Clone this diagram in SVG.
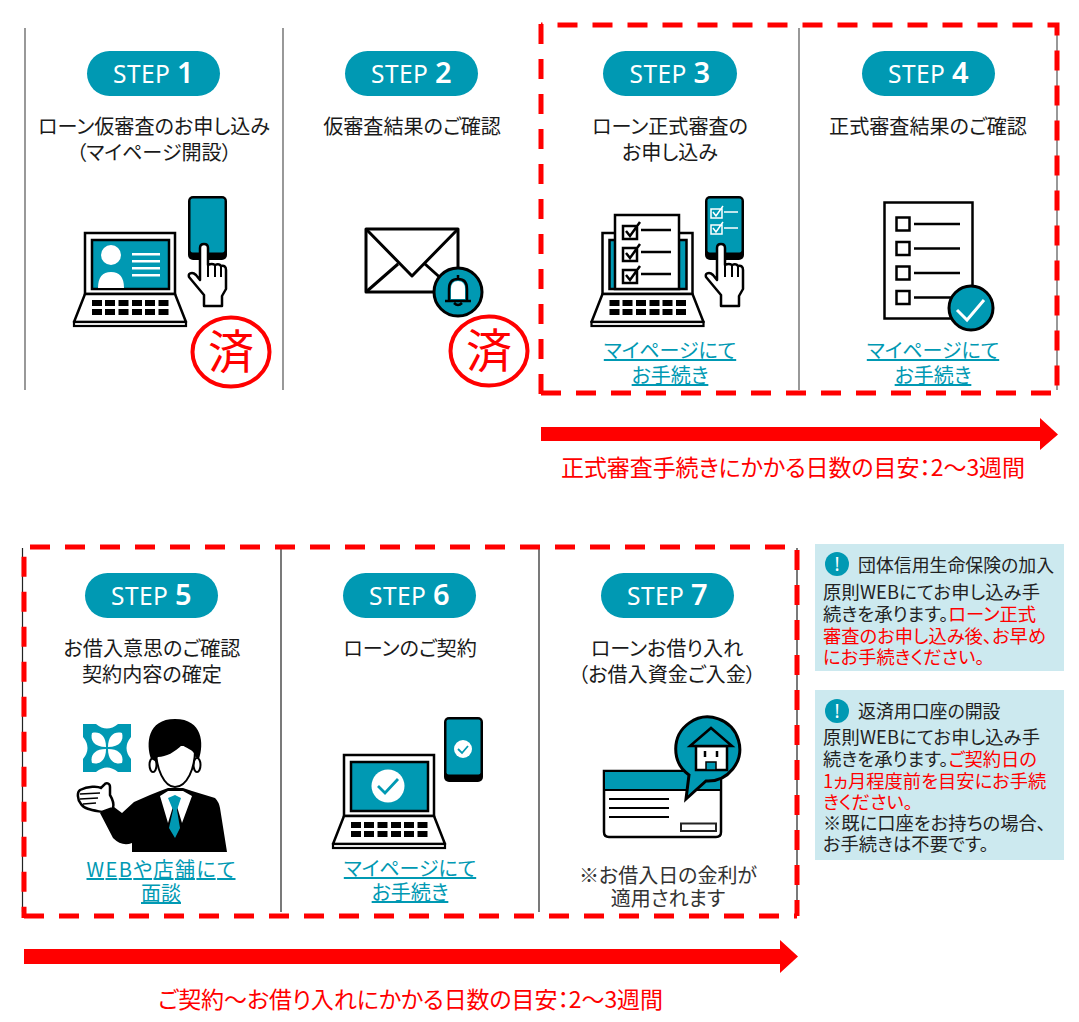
<svg xmlns="http://www.w3.org/2000/svg" xmlns:xlink="http://www.w3.org/1999/xlink" width="1079" height="1022" viewBox="0 0 1079 1022">
<style>
text{font-family:"Noto Sans CJK JP","Noto Sans",sans-serif;font-feature-settings:"palt"}
.sep{stroke:#555;stroke-width:1.2;fill:none}
.sep2{stroke:#222;stroke-width:1.2;fill:none}
.box{fill:none;stroke:#f00;stroke-width:5;stroke-dasharray:20 15}
.pill{fill:#0099b3}
.st{font-family:"Noto Sans",sans-serif;font-size:24.500px;letter-spacing:.4px;fill:#fff;text-anchor:middle}
.st tspan{font-size:29px;font-weight:600}
.h{font-size:20.100px;fill:#1a1a1a;text-anchor:middle}
.lk{font-size:20px;fill:#0099b3;text-anchor:middle;text-decoration:underline}
.n{font-size:20px;fill:#333;text-anchor:middle}
.r{font-size:23px;fill:#f00}
.b{font-size:18.300px;fill:#222}
.ti{font-size:17.900px;fill:#222}
.red{fill:#f00}
.info{fill:#cce9ef}
.ic{fill:#0099b3}
.ex{font-family:"Noto Sans",sans-serif;font-size:19px;fill:#fff;text-anchor:middle}
.stamp{fill:none;stroke:#f00;stroke-width:4}
.sm{font-size:46px;fill:#f00;text-anchor:middle}
.k{stroke:#000;stroke-width:3;fill:none}
.t{fill:#0099b3}
</style>
<defs>
<g id="laptop">
<rect x="85" y="233" width="90" height="61" fill="#fff" stroke="#000" stroke-width="2.500"/>
<rect x="92" y="240" width="77" height="49" fill="#0099b3" stroke="#000" stroke-width="2.500"/>
<path d="M85 294H175L186 322H74Z" fill="#fff" stroke="#000" stroke-width="2.500" stroke-linejoin="round"/>
<rect x="74" y="322" width="112" height="4" fill="#fff" stroke="#000" stroke-width="2.200"/>
<g fill="#000">
<rect x="92" y="300" width="10" height="6"/><rect x="105" y="300" width="10" height="6"/><rect x="118.500" y="300" width="10" height="6"/><rect x="132" y="300" width="10" height="6"/><rect x="145" y="300" width="10" height="6"/><rect x="158.500" y="300" width="10" height="6"/>
<rect x="92" y="309" width="10" height="6"/><rect x="105" y="309" width="10" height="6"/><rect x="118.500" y="309" width="10" height="6"/><rect x="132" y="309" width="10" height="6"/><rect x="145" y="309" width="10" height="6"/><rect x="158.500" y="309" width="10" height="6"/>
</g>
</g>
<g id="phone">
<rect x="188" y="196" width="39" height="64" rx="5" fill="#000"/>
<rect x="190.500" y="198.500" width="34" height="54" rx="2" fill="#0099b3"/>
</g>
<g id="hand">
<path d="M200 248q0-4 4-4t4 4V265q4-2 7 0q4-2 6 1q5-1 5 4V289L222 296V306H204V295L189 277q-1-4 3-4q2 0 4 2L200 280Z" fill="#fff" stroke="#000" stroke-width="2.500" stroke-linejoin="round"/>
<path d="M208 265V277M215 265V277M221 266V277" stroke="#000" stroke-width="2" fill="none"/>
</g>
<path id="leaf" d="M-1-1C-13-1-17-8-15-15C-8-17-1-13-1-1Z" fill="#fff"/>
</defs>

<g id="connectors">
<path class="sep" d="M25 28V390M283 28V390M799 28V390M1057 28V390"/>
<path class="sep2" d="M22.500 548V912M281 548V912M539 548V912M797 548V912"/>
<path class="box" stroke-dashoffset="-16.500" d="M541 25H1057V393"/>
<path class="box" d="M541 24V395"/>
<path class="box" d="M541 393H1057"/>
<path class="box" stroke-dashoffset="-6" d="M24 547H797V916"/>
<path class="box" d="M24 556.700V918"/>
<path class="box" d="M24 916H797"/>
<path d="M541 427H1040V418L1058 434.500L1040 450V441H541Z" fill="#f00"/>
<path d="M24 949H780V940L798 956.500L780 973V964H24Z" fill="#f00"/>
</g>

<g id="step1">
<rect class="pill" x="87" y="51" width="133" height="45" rx="22.500"/>
<text class="st" x="153.500" y="83">STEP <tspan>1</tspan></text>
<text class="h" x="154" y="134">ローン仮審査のお申し込み</text>
<text class="h" x="154" y="160">（マイページ開設）</text>
<use xlink:href="#laptop"/>
<g fill="#fff"><circle cx="111" cy="255" r="10"/><path d="M98 288q0-16 13-16t13 16Z"/><rect x="132" y="253" width="28" height="2.500"/><rect x="132" y="260" width="28" height="2.500"/><rect x="132" y="267" width="28" height="2.500"/><rect x="132" y="274" width="28" height="2.500"/></g>
<use xlink:href="#phone"/><use xlink:href="#hand"/>
<ellipse class="stamp" cx="231" cy="352" rx="38.500" ry="34.500"/>
<text class="sm" x="231" y="368">済</text>
</g>

<g id="step2">
<rect class="pill" x="345" y="51" width="133" height="45" rx="22.500"/>
<text class="st" x="411.500" y="83">STEP <tspan>2</tspan></text>
<text class="h" x="412" y="134">仮審査結果のご確認</text>
<path d="M366 229H458V292H366Z" fill="#fff" stroke="#000" stroke-width="3" stroke-linejoin="round"/>
<path class="k" d="M366 229L412 276L458 229M366 292L398 264M425 264L445 282" stroke-linejoin="round"/>
<circle cx="458" cy="292" r="24" class="t" stroke="#000" stroke-width="3"/>
<path d="M449 301V289q0-10 9-10t9 10V301ZM445 301H471M458 275V279M454 303q4 4 8 0" stroke="#000" stroke-width="2.500" fill="none"/>
<path d="M451 299V289q0-8 7-8t7 8V299Z" fill="#fff"/>
<ellipse class="stamp" cx="489" cy="351" rx="38.500" ry="34.500"/>
<text class="sm" x="489" y="367">済</text>
</g>

<g id="step3">
<rect class="pill" x="603" y="51" width="134" height="45" rx="22.500"/>
<text class="st" x="670" y="83">STEP <tspan>3</tspan></text>
<text class="h" x="670" y="134">ローン正式審査の</text>
<text class="h" x="670" y="160">お申し込み</text>
<use xlink:href="#laptop" x="517.500"/>
<rect x="615" y="215" width="64" height="74" fill="#fff" stroke="#000" stroke-width="2.500"/>
<g fill="none" stroke="#000">
<path d="M623 226H637V239H623ZM626 231L630 236L640 222M641 230H671M623 248H637V261H623ZM626 253L630 258L640 244M641 252H671M623 270H637V283H623ZM626 275L630 280L640 266M641 274H671" stroke-width="2.500"/>
</g>
<use xlink:href="#phone" x="517"/><use xlink:href="#hand" x="517"/>
<path d="M711 209H722V218H711ZM713 212L716 216L723 206M724 212H738M711 225H722V234H711ZM713 228L716 232L723 222M724 228H738" fill="none" stroke="#fff" stroke-width="1.500"/>
<text class="lk" x="670" y="358">マイページにて</text>
<text class="lk" x="670" y="383">お手続き</text>
</g>

<g id="step4">
<rect class="pill" x="862" y="51" width="133" height="45" rx="22.500"/>
<text class="st" x="928.500" y="83">STEP <tspan>4</tspan></text>
<text class="h" x="928" y="134">正式審査結果のご確認</text>
<rect x="884.500" y="202.500" width="88" height="116" fill="#fff" stroke="#000" stroke-width="2.500"/>
<path d="M896.500 217.500H909.500V230.500H896.500ZM896.500 242H909.500V255H896.500ZM896.500 266.500H909.500V279.500H896.500ZM896.500 291H909.500V304H896.500ZM914 224H960M914 248.500H960M914 273H960M914 297.500H960" fill="none" stroke="#000" stroke-width="2.500"/>
<circle cx="971" cy="308" r="22" class="t" stroke="#000" stroke-width="3"/>
<path d="M957 310L967 320L984 300" fill="none" stroke="#fff" stroke-width="3"/>
<text class="lk" x="933" y="358">マイページにて</text>
<text class="lk" x="933" y="383">お手続き</text>
</g>

<g id="note">
<text class="r" x="561" y="476" textLength="464">正式審査手続きにかかる日数の目安：2～3週間</text>
<text class="r" x="158" y="1008" textLength="505">ご契約～お借り入れにかかる日数の目安：2～3週間</text>
</g>

<g id="step5">
<rect class="pill" x="85" y="573" width="133" height="45" rx="22.500"/>
<text class="st" x="151.500" y="605">STEP <tspan>5</tspan></text>
<text class="h" x="152" y="656">お借入意思のご確認</text>
<text class="h" x="152" y="682">契約内容の確定</text>
<path d="M83 724H96Q107 733 118 724H131V737Q122 748 131 759V772H118Q107 763 96 772H83V759Q92 748 83 737Z" class="t"/>
<g transform="translate(107 748)"><use xlink:href="#leaf"/><use xlink:href="#leaf" transform="rotate(90)"/><use xlink:href="#leaf" transform="rotate(180)"/><use xlink:href="#leaf" transform="rotate(270)"/></g>
<path d="M132 852V843Q122 847 113 838L100 813L114 807L122 813L134 802L150 795L160 791L168 788H183L192 791L215 798Q219 802 220 808L227 852Z" fill="#000"/>
<path d="M160 796L168 823L175 800L182 823L192 796L183 791H168Z" fill="#fff"/>
<path d="M168 798L175 795L181 798L177 810L180 828L175 838L169 828L173 810Z" class="t"/>
<ellipse cx="153" cy="765" rx="3.500" ry="7" fill="#fff" stroke="#000" stroke-width="2"/>
<ellipse cx="197" cy="765" rx="3.500" ry="7" fill="#fff" stroke="#000" stroke-width="2"/>
<path d="M156 745C155 770 165 787 175 787C186 787 196 770 195 745Z" fill="#fff" stroke="#000" stroke-width="2"/>
<path d="M151 759C146 744 147 719 175 719C203 719 204 744 199 759L195.500 757C194 750 190 750 182 745C175 752 166 757 158 757C157 758 156 759 155 761Z" fill="#000"/>
<path d="M102 812C92 810 84 809 81 804C77 799 77 792 80 790C88 786 98 786 101 788L104 785C106 782 110 783 110 787L110 795C113 800 114 805 113 808Z" fill="#fff" stroke="#000" stroke-width="2.500"/>
<path d="M80 794L100 793M80 799L98 798M83 804L96 803" stroke="#000" stroke-width="1.500"/>
<text class="lk" x="161" y="877" textLength="149">WEBや店舗にて</text>
<text class="lk" x="161" y="901">面談</text>
</g>

<g id="step6">
<rect class="pill" x="343" y="573" width="133" height="45" rx="22.500"/>
<text class="st" x="409.500" y="605">STEP <tspan>6</tspan></text>
<text class="h" x="410" y="656">ローンのご契約</text>
<use xlink:href="#laptop" x="259" y="522"/>
<circle cx="388" cy="786" r="16.500" fill="#fff"/>
<path d="M378 786L385 793L398 779" fill="none" stroke="#0099b3" stroke-width="2.800"/>
<rect x="444" y="717" width="39" height="65" rx="5" fill="#000"/><rect x="446.500" y="719.500" width="34" height="55" rx="2" class="t"/>
<circle cx="463" cy="749" r="9" fill="#fff"/>
<path d="M458 749L462 753L468 746" fill="none" stroke="#0099b3" stroke-width="1.800"/>
<text class="lk" x="410" y="876">マイページにて</text>
<text class="lk" x="410" y="900">お手続き</text>
</g>

<g id="step7">
<rect class="pill" x="601" y="573" width="133" height="45" rx="22.500"/>
<text class="st" x="667.500" y="605">STEP <tspan>7</tspan></text>
<text class="h" x="667" y="656">ローンお借り入れ</text>
<text class="h" x="667" y="682">（お借入資金ご入金）</text>
<path d="M604 771H721V832Q721 837 716 837H609Q604 837 604 832Z" fill="#fff" stroke="#000" stroke-width="2.500"/>
<rect x="604" y="771" width="117" height="19" class="t" stroke="#000" stroke-width="2"/>
<path d="M609 799H669M609 808H669M609 817H669" stroke="#000" stroke-width="2.200"/>
<rect x="681" y="823.500" width="35" height="7.500" fill="#fff" stroke="#222" stroke-width="2"/>
<path d="M686 799L689 775A32 32 0 1 1 706 781Z" class="t" stroke="#000" stroke-width="3"/>
<path d="M696 746H727V770H696Z" fill="#fff" stroke="#000" stroke-width="2.500"/>
<path d="M690 746L711 728L732 746Z" class="t" stroke="#000" stroke-width="2.500"/>
<path d="M705 751V757M717 751V757" stroke="#000" stroke-width="2.500"/>
<rect x="706" y="762" width="10" height="8" class="t" stroke="#000" stroke-width="1.500"/>
<text class="n" x="668" y="883">※お借入日の金利が</text>
<text class="n" x="668" y="906">適用されます</text>
</g>

<g id="info1">
<rect class="info" x="815" y="544" width="249" height="127"/>
<circle class="ic" cx="837" cy="564" r="12"/><text class="ex" x="837" y="571">!</text>
<text class="ti" x="858" y="572">団体信用生命保険の加入</text>
<text class="b" x="823" y="599" textLength="217">原則WEBにてお申し込み手</text>
<text class="b" x="823" y="621">続きを承ります。<tspan class="red">ローン正式</tspan></text>
<text class="b red" x="823" y="643">審査のお申し込み後、お早め</text>
<text class="b red" x="823" y="664">にお手続きください。</text>
</g>

<g id="info2">
<rect class="info" x="815" y="690" width="249" height="170"/>
<circle class="ic" cx="837" cy="711" r="12"/><text class="ex" x="837" y="718">!</text>
<text class="ti" x="858" y="718">返済用口座の開設</text>
<text class="b" x="823" y="744" textLength="217">原則WEBにてお申し込み手</text>
<text class="b" x="823" y="766">続きを承ります。<tspan class="red">ご契約日の</tspan></text>
<text class="b red" x="823" y="788">1ヵ月程度前を目安にお手続</text>
<text class="b red" x="823" y="809">きください。</text>
<text class="b" x="823" y="830">※既に口座をお持ちの場合、</text>
<text class="b" x="823" y="851">お手続きは不要です。</text>
</g>
</svg>
